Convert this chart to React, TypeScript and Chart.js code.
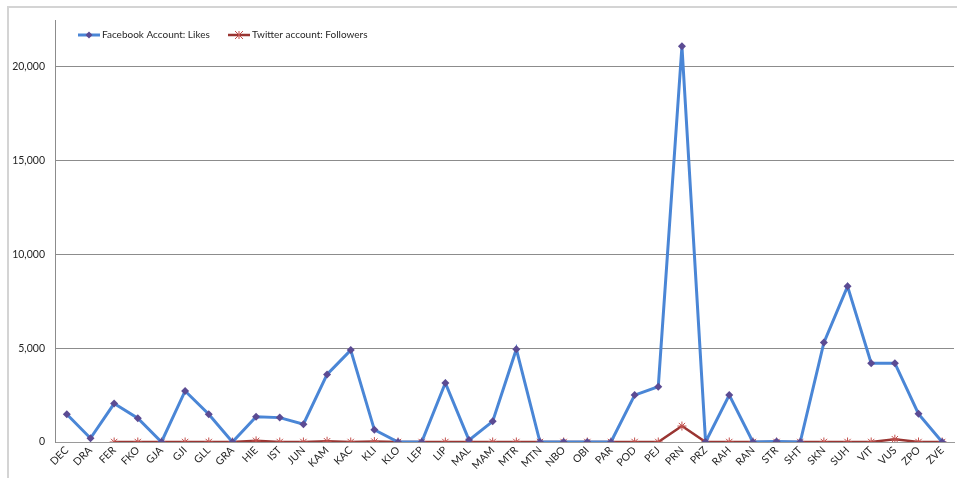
import { useEffect, useRef } from 'react';
import { Chart, registerables } from 'chart.js';

Chart.register(...registerables);

const categories = [
  'DEC', 'DRA', 'FER', 'FKO', 'GJA', 'GJI', 'GLL', 'GRA', 'HIE', 'IST',
  'JUN', 'KAM', 'KAC', 'KLI', 'KLO', 'LEP', 'LIP', 'MAL', 'MAM', 'MTR',
  'MTN', 'NBO', 'OBI', 'PAR', 'POD', 'PEJ', 'PRN', 'PRZ', 'RAH', 'RAN',
  'STR', 'SHT', 'SKN', 'SUH', 'VIT', 'VUS', 'ZPO', 'ZVE',
];

const facebookLikes = [
  1480, 200, 2050, 1270, 0, 2720, 1480, 0, 1350, 1300,
  950, 3600, 4900, 650, 0, 0, 3150, 100, 1100, 4950,
  0, 0, 0, 0, 2500, 2950, 21100, 0, 2500, 0,
  30, 0, 5300, 8300, 4200, 4200, 1500, 0,
];

const twitterFollowers = [
  null, null, 0, 0, 0, 0, 0, 0, 60, 0,
  0, 40, 0, 20, 0, 0, 0, 0, 0, 0,
  0, 0, 0, 0, 0, 0, 850, 0, 0, 0,
  0, 0, 0, 0, 0, 150, 0, 0,
];

const seriesLabels = ['Facebook Account: Likes', 'Twitter account: Followers'];
const yTicks = [0, 5000, 10000, 15000, 20000];
const yMax = 22500;

const FONT = 'Lato, "Liberation Sans", sans-serif';
const RIGHT_GAP = 3;

const fixRightPlugin = {
  id: 'fixRight',
  afterLayout(chart: any) {
    const right = chart.width - RIGHT_GAP;
    const area = chart.chartArea;
    area.right = right;
    area.width = right - area.left;
    const x = chart.scales.x;
    x.right = right;
    x.width = right - x.left;
    x.configure();
  },
};

const legendPlugin = {
  id: 'insideLegend',
  afterDraw(chart: any) {
    const ctx = chart.ctx;
    const area = chart.chartArea;
    const y = 35;
    let x = area.left + 23;
    ctx.save();
    ctx.font = `10px ${FONT}`;
    ctx.textBaseline = 'middle';
    ctx.textAlign = 'left';
    chart.data.datasets.forEach((ds: any, i: number) => {
      ctx.strokeStyle = ds.borderColor;
      ctx.lineWidth = i === 0 ? 3 : 2.5;
      ctx.beginPath();
      ctx.moveTo(x, y);
      ctx.lineTo(x + 22, y);
      ctx.stroke();
      ctx.beginPath();
      const cx = x + 11;
      if (i === 0) {
        ctx.fillStyle = ds.pointBackgroundColor;
        ctx.moveTo(cx, y - 3.5);
        ctx.lineTo(cx + 3.5, y);
        ctx.lineTo(cx, y + 3.5);
        ctx.lineTo(cx - 3.5, y);
        ctx.closePath();
        ctx.fill();
      } else {
        ctx.strokeStyle = ds.pointBorderColor;
        ctx.lineWidth = 1;
        const r = 4;
        ctx.moveTo(cx - r, y - r); ctx.lineTo(cx + r, y + r);
        ctx.moveTo(cx - r, y + r); ctx.lineTo(cx + r, y - r);
        ctx.moveTo(cx, y - r); ctx.lineTo(cx, y + r);
        ctx.stroke();
      }
      ctx.fillStyle = '#262626';
      ctx.fillText(ds.label, x + 24, y);
      x += 150;
    });
    ctx.restore();
  },
};

export default function App() {
  const ref = useRef<HTMLCanvasElement | null>(null);

  useEffect(() => {
    document.body.style.margin = '0';
    document.documentElement.style.overflow = 'hidden';
    if (!ref.current) return;
    const chart = new Chart(ref.current, {
      type: 'line',
      data: {
        labels: categories,
        datasets: [
          {
            label: seriesLabels[0],
            data: facebookLikes,
            borderColor: '#4A86D6',
            borderWidth: 3,
            pointStyle: 'rectRot',
            pointRadius: 4,
            pointBackgroundColor: '#5B4B93',
            pointBorderColor: '#5B4B93',
            pointBorderWidth: 0,
            tension: 0,
            spanGaps: false,
          },
          {
            label: seriesLabels[1],
            data: twitterFollowers,
            borderColor: '#9A3532',
            borderWidth: 2.5,
            pointStyle: 'star',
            pointRadius: 4.5,
            pointBackgroundColor: 'rgba(0,0,0,0)',
            pointBorderColor: '#C24F4C',
            pointBorderWidth: 1,
            tension: 0,
            spanGaps: false,
          },
        ],
      },
      options: {
        animation: false,
        responsive: false,
        maintainAspectRatio: false,
        layout: { padding: { top: 20, right: 3, left: 0, bottom: 0 } },
        plugins: {
          legend: { display: false },
          tooltip: { enabled: false },
        },
        scales: {
          x: {
            offset: true,
            grid: { display: false, drawTicks: false },
            border: { display: true, color: '#9a9a9a' },
            ticks: {
              autoSkip: false,
              minRotation: 45,
              maxRotation: 45,
              padding: 2,
              color: '#262626',
              font: { family: FONT, size: 10.5 },
            },
            afterFit(scale: any) {
              scale.height = 36;
            },
          },
          y: {
            min: 0,
            max: yMax,
            afterBuildTicks(scale: any) {
              scale.ticks = yTicks.map((v) => ({ value: v }));
            },
            grid: { color: '#8c8c8c', lineWidth: 1, drawTicks: false },
            border: { display: true, color: '#8c8c8c' },
            ticks: {
              padding: 10,
              color: '#262626',
              font: { family: FONT, size: 10.5 },
              callback: (v: any) => Number(v).toLocaleString('en-US'),
            },
            afterFit(scale: any) {
              scale.width = 55;
            },
          },
        },
      },
      plugins: [fixRightPlugin, legendPlugin],
    });
    return () => chart.destroy();
  }, []);

  return (
    <div style={{ position: 'relative', width: 957, height: 478, background: '#fff' }}>
      <div
        style={{
          position: 'absolute',
          left: 7,
          top: 6,
          right: -10,
          bottom: -10,
          borderLeft: '2px solid #d4d4d4',
          borderTop: '2px solid #d4d4d4',
        }}
      />
      <canvas ref={ref} width={957} height={478} style={{ position: 'absolute', left: 0, top: 0, display: 'block' }} />
    </div>
  );
}
